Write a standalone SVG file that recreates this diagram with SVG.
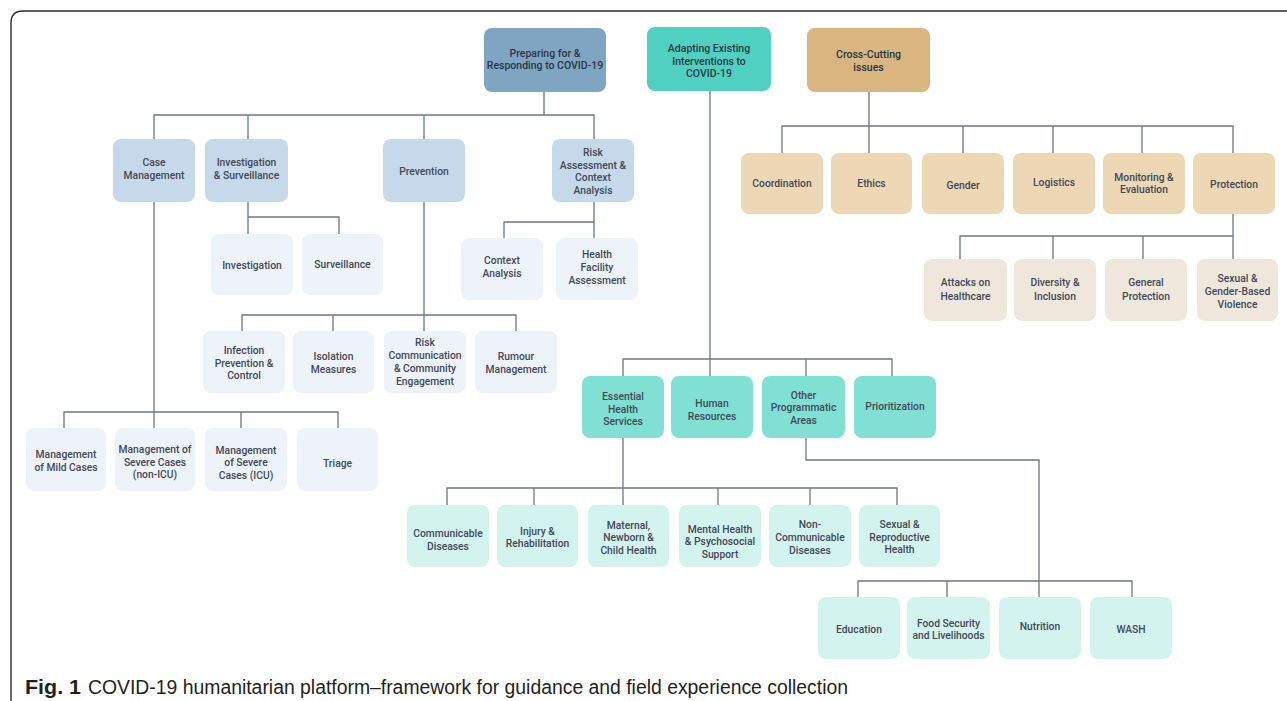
<svg xmlns="http://www.w3.org/2000/svg" width="1287" height="701" viewBox="0 0 1287 701">
<style>
.c{fill:none;stroke:#6e7589;stroke-width:1.3}
rect{rx:8px;ry:8px}
text{font-family:Roboto,"Liberation Sans",sans-serif;font-size:10.3px;font-weight:500;fill:#434957;text-anchor:middle;dominant-baseline:central}
.t text{fill:#2c3646;font-size:10.5px}
.tb rect{fill:#7fa5c3}.tt rect{fill:#4fd0c0}.tn rect{fill:#d9b57f}
.b2 rect{fill:#c5d9ea}.b3 rect{fill:#eef3f9}
.g2 rect{fill:#80e0d3}.g3 rect{fill:#d3f3ef}
.n2 rect{fill:#edd7b5}.n3 rect{fill:#efe7dc}
.cap{font-family:"Liberation Sans",Arial,sans-serif;font-size:20px;fill:#231f20;text-anchor:start;dominant-baseline:alphabetic;font-weight:400}
</style>
<rect width="1287" height="701" fill="#ffffff" rx="0" ry="0" style="rx:0;ry:0"/>
<path d="M11 701 V23 Q11 11 23 11 H1287" fill="none" stroke="#2b2b2b" stroke-width="1.4"/>
<g id="connectors">
<path class="c" d="M544 92 V115 M154 139 V115 H594 V139 M248 115 V139 M424 115 V139"/>
<path class="c" d="M248 202 V234 M248 217 H339 V234"/>
<path class="c" d="M594 202 V238 M504 238 V222 H594"/>
<path class="c" d="M424 202 V331 M242 331 V315 H516 V331 M333 315 V331"/>
<path class="c" d="M154 202 V428 M64 428 V412 H338 V428 M241 412 V428"/>
<path class="c" d="M710 91 V376 M623 376 V359 H892 V376 M806 359 V376"/>
<path class="c" d="M623 438 V505 M447 505 V488 H897 V505 M534 488 V505 M718 488 V505 M810 488 V505"/>
<path class="c" d="M806 438 V460 H1039 V597 M858 597 V581 H1132 V597 M947 581 V597"/>
<path class="c" d="M869 92 V153 M782 153 V126 H1233 V153 M963 126 V153 M1053 126 V153 M1142 126 V153"/>
<path class="c" d="M1233 214 V259 M960 259 V236 H1233 M1053 236 V259 M1143 236 V259"/>
</g>
<g id="prep" class="t tb"><rect x="484" y="28" width="122" height="64"/><text><tspan x="545" y="52.5">Preparing for &amp;</tspan><tspan x="545" y="65">Responding to COVID-19</tspan></text></g>
<g id="adapt" class="t tt"><rect x="647" y="27" width="124" height="64"/><text><tspan x="709" y="48">Adapting Existing</tspan><tspan x="709" y="60.5">Interventions to</tspan><tspan x="709" y="73">COVID-19</tspan></text></g>
<g id="cross" class="t tn"><rect x="807" y="28" width="123" height="64"/><text><tspan x="868.5" y="54">Cross-Cutting</tspan><tspan x="868.5" y="67">issues</tspan></text></g>

<g id="case" class="b2"><rect x="113" y="139" width="82" height="63"/><text><tspan x="154" y="162">Case</tspan><tspan x="154" y="174.5">Management</tspan></text></g>
<g id="invsurv" class="b2"><rect x="205" y="139" width="83" height="63"/><text><tspan x="246.5" y="162">Investigation</tspan><tspan x="246.5" y="174.5">&amp; Surveillance</tspan></text></g>
<g id="prevention" class="b2"><rect x="383" y="139" width="82" height="63"/><text><tspan x="424" y="171">Prevention</tspan></text></g>
<g id="risk" class="b2"><rect x="552" y="139" width="82" height="63"/><text><tspan x="593" y="152">Risk</tspan><tspan x="593" y="164.5">Assessment &amp;</tspan><tspan x="593" y="177">Context</tspan><tspan x="593" y="189.5">Analysis</tspan></text></g>

<g id="investigation" class="b3"><rect x="211" y="234" width="82" height="61"/><text><tspan x="252" y="264.5">Investigation</tspan></text></g>
<g id="surveillance" class="b3"><rect x="302" y="234" width="81" height="61"/><text><tspan x="342.5" y="264">Surveillance</tspan></text></g>
<g id="context" class="b3"><rect x="461" y="238" width="82" height="62"/><text><tspan x="502" y="260">Context</tspan><tspan x="502" y="272.5">Analysis</tspan></text></g>
<g id="hfa" class="b3"><rect x="556" y="238" width="82" height="62"/><text><tspan x="597" y="254">Health</tspan><tspan x="597" y="267">Facility</tspan><tspan x="597" y="280">Assessment</tspan></text></g>
<g id="ipc" class="b3"><rect x="203" y="331" width="82" height="62"/><text><tspan x="244" y="350">Infection</tspan><tspan x="244" y="362.5">Prevention &amp;</tspan><tspan x="244" y="375">Control</tspan></text></g>
<g id="isolation" class="b3"><rect x="293" y="331" width="81" height="62"/><text><tspan x="333.5" y="356">Isolation</tspan><tspan x="333.5" y="368.5">Measures</tspan></text></g>
<g id="rcce" class="b3"><rect x="384" y="331" width="82" height="62"/><text><tspan x="425" y="342">Risk</tspan><tspan x="425" y="355">Communication</tspan><tspan x="425" y="368">&amp; Community</tspan><tspan x="425" y="380.5">Engagement</tspan></text></g>
<g id="rumour" class="b3"><rect x="475" y="331" width="82" height="62"/><text><tspan x="516" y="356">Rumour</tspan><tspan x="516" y="368.5">Management</tspan></text></g>
<g id="mild" class="b3"><rect x="26" y="428" width="80" height="63"/><text><tspan x="66" y="454">Management</tspan><tspan x="66" y="466.5">of Mild Cases</tspan></text></g>
<g id="nonicu" class="b3"><rect x="115" y="428" width="80" height="63"/><text><tspan x="155" y="448.5">Management of</tspan><tspan x="155" y="461.5">Severe Cases</tspan><tspan x="155" y="474">(non-ICU)</tspan></text></g>
<g id="icu" class="b3"><rect x="205" y="428" width="82" height="63"/><text><tspan x="246" y="450">Management</tspan><tspan x="246" y="462">of Severe</tspan><tspan x="246" y="474.5">Cases (ICU)</tspan></text></g>
<g id="triage" class="b3"><rect x="297" y="428" width="81" height="63"/><text><tspan x="337.5" y="463">Triage</tspan></text></g>

<g id="coordination" class="n2"><rect x="741" y="153" width="82" height="61"/><text><tspan x="782" y="183">Coordination</tspan></text></g>
<g id="ethics" class="n2"><rect x="831" y="153" width="81" height="61"/><text><tspan x="871.5" y="183">Ethics</tspan></text></g>
<g id="gender" class="n2"><rect x="922" y="153" width="82" height="61"/><text><tspan x="963" y="185">Gender</tspan></text></g>
<g id="logistics" class="n2"><rect x="1013" y="153" width="82" height="61"/><text><tspan x="1054" y="182">Logistics</tspan></text></g>
<g id="me" class="n2"><rect x="1103" y="153" width="82" height="61"/><text><tspan x="1144" y="177">Monitoring &amp;</tspan><tspan x="1144" y="189">Evaluation</tspan></text></g>
<g id="protection" class="n2"><rect x="1193" y="153" width="82" height="61"/><text><tspan x="1234" y="184">Protection</tspan></text></g>

<g id="attacks" class="n3"><rect x="924" y="259" width="83" height="62"/><text><tspan x="965.5" y="282">Attacks on</tspan><tspan x="965.5" y="296">Healthcare</tspan></text></g>
<g id="diversity" class="n3"><rect x="1014" y="259" width="82" height="62"/><text><tspan x="1055" y="282">Diversity &amp;</tspan><tspan x="1055" y="296">Inclusion</tspan></text></g>
<g id="general" class="n3"><rect x="1105" y="259" width="82" height="62"/><text><tspan x="1146" y="282">General</tspan><tspan x="1146" y="296">Protection</tspan></text></g>
<g id="sgbv" class="n3"><rect x="1197" y="259" width="81" height="62"/><text><tspan x="1237.5" y="278">Sexual &amp;</tspan><tspan x="1237.5" y="291">Gender-Based</tspan><tspan x="1237.5" y="304">Violence</tspan></text></g>

<g id="ehs" class="g2"><rect x="582" y="376" width="82" height="62"/><text><tspan x="623" y="396">Essential</tspan><tspan x="623" y="408.5">Health</tspan><tspan x="623" y="421">Services</tspan></text></g>
<g id="hr" class="g2"><rect x="671" y="376" width="82" height="62"/><text><tspan x="712" y="403">Human</tspan><tspan x="712" y="416">Resources</tspan></text></g>
<g id="opa" class="g2"><rect x="762" y="376" width="83" height="62"/><text><tspan x="803.5" y="395">Other</tspan><tspan x="803.5" y="407">Programmatic</tspan><tspan x="803.5" y="419.5">Areas</tspan></text></g>
<g id="prioritization" class="g2"><rect x="854" y="376" width="82" height="62"/><text><tspan x="895" y="406">Prioritization</tspan></text></g>

<g id="communicable" class="g3"><rect x="407" y="505" width="82" height="62"/><text><tspan x="448" y="533">Communicable</tspan><tspan x="448" y="545.5">Diseases</tspan></text></g>
<g id="injury" class="g3"><rect x="497" y="505" width="81" height="62"/><text><tspan x="537.5" y="531">Injury &amp;</tspan><tspan x="537.5" y="543">Rehabilitation</tspan></text></g>
<g id="maternal" class="g3"><rect x="588" y="505" width="81" height="62"/><text><tspan x="628.5" y="524.5">Maternal,</tspan><tspan x="628.5" y="537">Newborn &amp;</tspan><tspan x="628.5" y="549.5">Child Health</tspan></text></g>
<g id="mental" class="g3"><rect x="679" y="505" width="82" height="62"/><text><tspan x="720" y="528.5">Mental Health</tspan><tspan x="720" y="541">&amp; Psychosocial</tspan><tspan x="720" y="553.5">Support</tspan></text></g>
<g id="ncd" class="g3"><rect x="769" y="505" width="82" height="62"/><text><tspan x="810" y="524">Non-</tspan><tspan x="810" y="537">Communicable</tspan><tspan x="810" y="550">Diseases</tspan></text></g>
<g id="srh" class="g3"><rect x="859" y="505" width="81" height="62"/><text><tspan x="899.5" y="524">Sexual &amp;</tspan><tspan x="899.5" y="536.5">Reproductive</tspan><tspan x="899.5" y="549">Health</tspan></text></g>

<g id="education" class="g3"><rect x="818" y="597" width="82" height="62"/><text><tspan x="859" y="629">Education</tspan></text></g>
<g id="food" class="g3"><rect x="907" y="597" width="83" height="62"/><text><tspan x="948.5" y="623">Food Security</tspan><tspan x="948.5" y="635">and Livelihoods</tspan></text></g>
<g id="nutrition" class="g3"><rect x="999" y="597" width="82" height="62"/><text><tspan x="1040" y="626">Nutrition</tspan></text></g>
<g id="wash" class="g3"><rect x="1090" y="597" width="82" height="62"/><text><tspan x="1131" y="629">WASH</tspan></text></g>

<g id="caption">
<text class="cap" x="25" y="694" font-weight="bold" style="font-weight:700" textLength="56" lengthAdjust="spacingAndGlyphs">Fig. 1</text>
<text class="cap" x="88" y="694" textLength="760" lengthAdjust="spacingAndGlyphs">COVID-19 humanitarian platform–framework for guidance and field experience collection</text>
</g>
</svg>
